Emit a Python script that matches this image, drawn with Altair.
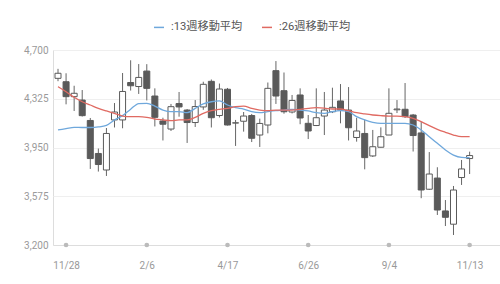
import altair as alt
import pandas as pd

# weekly candles starting 2022-11-21
start = "2022-11-21"
opens = [4482, 4456, 4341, 4315, 4158, 3904, 3777, 4162, 4162, 4450,
         4419, 4538, 4346, 4154, 4092, 4288, 4238, 4142, 4262, 4459,
         4196, 4398, 4138, 4152, 4196, 4046, 4123, 4541, 4387, 4223,
         4354, 4136, 4119, 4192, 4225, 4308, 4238, 4027, 4058, 3885,
         3952, 4046, 4240, 4244, 4200, 4062, 3629, 3715, 3462, 3360,
         3719, 3865]
highs = [4555, 4521, 4425, 4392, 4177, 3942, 4100, 4292, 4523, 4621,
         4592, 4591, 4405, 4179, 4285, 4377, 4246, 4315, 4456, 4473,
         4442, 4408, 4162, 4223, 4208, 4172, 4450, 4615, 4527, 4354,
         4405, 4200, 4405, 4377, 4410, 4438, 4415, 4179, 4165, 4085,
         4105, 4405, 4315, 4446, 4208, 4146, 3915, 3798, 3546, 3654,
         3854, 3918]
lows = [4460, 4282, 4231, 4188, 3785, 3765, 3731, 4104, 4098, 4388,
        4362, 4312, 4112, 4004, 4077, 4187, 3985, 4108, 4240, 4104,
        4181, 4119, 3962, 4072, 3992, 3954, 4059, 4285, 4210, 4212,
        4129, 4015, 4115, 4046, 4215, 4136, 4004, 3995, 3782, 3877,
        3950, 4046, 4215, 4177, 3919, 3560, 3623, 3431, 3346, 3277,
        3662, 3746]
closes = [4521, 4341, 4367, 4195, 3865, 3819, 4058, 4223, 4381, 4425,
          4489, 4405, 4182, 4129, 4264, 4262, 4142, 4265, 4436, 4179,
          4400, 4123, 4140, 4192, 4021, 4135, 4405, 4346, 4225, 4312,
          4177, 4077, 4179, 4238, 4259, 4238, 4102, 4077, 3872, 3956,
          4033, 4213, 4246, 4187, 4042, 3623, 3746, 3469, 3413, 3623,
          3785, 3888]
ma13 = [4085, 4095, 4105, 4104, 4104, 4108, 4120, 4162, 4195, 4245,
        4288, 4290, 4268, 4238, 4226, 4226, 4218, 4251, 4285, 4302,
        4308, 4277, 4256, 4246, 4226, 4218, 4226, 4233, 4238, 4244,
        4238, 4231, 4218, 4213, 4226, 4233, 4226, 4187, 4162, 4144,
        4136, 4136, 4136, 4136, 4123, 4085, 4033, 3982, 3931, 3892,
        3874, 3872]
ma26 = [4418, 4379, 4336, 4302, 4277, 4251, 4231, 4213, 4192, 4187,
        4187, 4182, 4169, 4162, 4156, 4162, 4162, 4182, 4213, 4233,
        4244, 4251, 4264, 4269, 4251, 4238, 4233, 4238, 4238, 4238,
        4244, 4251, 4256, 4253, 4246, 4246, 4233, 4218, 4208, 4200,
        4195, 4192, 4192, 4187, 4174, 4149, 4118, 4090, 4067, 4046,
        4033, 4033]
series_names = [":13週移動平均", ":26週移動平均"]
series_colors = ["#6fa8dc", "#e06a62"]
tick_dates = ["2022-11-28", "2023-02-06", "2023-04-17", "2023-06-26", "2023-09-04", "2023-11-13"]
y_ticks = [3200, 3575, 3950, 4325, 4700]

dates = pd.date_range(start, periods=len(opens), freq="7D")
df = pd.DataFrame({"date": dates, "open": opens, "high": highs, "low": lows, "close": closes})
ma_df = pd.concat([
    pd.DataFrame({"date": dates, "value": ma13, "series": series_names[0]}),
    pd.DataFrame({"date": dates, "value": ma26, "series": series_names[1]}),
])
tick_df = pd.DataFrame({"date": pd.to_datetime(tick_dates), "v": [3200] * len(tick_dates)})

FONT = "Roboto, 'Noto Sans CJK JP', sans-serif"

xscale = alt.Scale(domain=[alt.DateTime(year=2022, month=11, date=21),
                           alt.DateTime(year=2023, month=12, date=5)], nice=False)
yscale = alt.Scale(domain=[3200, 4700], nice=False, zero=False)

xaxis = alt.Axis(values=[alt.DateTime(year=int(d[:4]), month=int(d[5:7]), date=int(d[8:])) for d in tick_dates],
                 format="%-m/%-d", title=None, grid=False, ticks=False,
                 domainColor="#dddddd", labelColor="#999999", labelFontSize=10,
                 labelPadding=15, labelFont=FONT)
yaxis = alt.Axis(values=y_ticks, labelExpr="format(datum.value, ',')", title=None,
                 domain=False, ticks=False,
                 gridColor="#efefef", labelColor="#9a9a9a", labelFontSize=10,
                 labelPadding=5, labelFont=FONT)

base = alt.Chart(df)

wicks = base.mark_rule(color="#666666", strokeWidth=1, clip=True).encode(
    x=alt.X("date:T", scale=xscale, axis=xaxis),
    y=alt.Y("low:Q", scale=yscale, axis=yaxis),
    y2="high:Q",
)

bodies = base.mark_bar(size=6, stroke="#5a5a5a", strokeWidth=1, clip=True).encode(
    x=alt.X("date:T", axis=xaxis),
    y=alt.Y("open:Q", axis=yaxis),
    y2="close:Q",
    fill=alt.condition("datum.open <= datum.close", alt.value("#ffffff"), alt.value("#5a5a5a")),
)

lines = alt.Chart(ma_df).mark_line(strokeWidth=1.3, interpolate="monotone", clip=True).encode(
    x=alt.X("date:T", axis=xaxis),
    y=alt.Y("value:Q", axis=yaxis),
    color=alt.Color("series:N", scale=alt.Scale(domain=series_names, range=series_colors),
                    legend=alt.Legend(title=None, orient="none", direction="horizontal",
                                      legendX=100, legendY=-29, symbolType="stroke",
                                      symbolSize=100, symbolStrokeWidth=1.5,
                                      labelFontSize=11.2, labelColor="#555555",
                                      labelFont=FONT, labelOffset=6, columnPadding=16,
                                      labelLimit=200)),
)

dots = alt.Chart(tick_df).mark_circle(size=22, color="#bbbbbb", opacity=1).encode(
    x=alt.X("date:T", axis=xaxis),
    y=alt.Y("v:Q", axis=yaxis),
)

chart = alt.layer(wicks, bodies, lines, dots).properties(
    width=447, height=195,
    autosize=alt.AutoSizeParams(type="none"),
    padding={"left": 53, "top": 50, "right": 0, "bottom": 39},
).configure_view(stroke=None).configure(background="#ffffff")

chart.save("out.html", embed_options={"renderer": "svg", "actions": False})
